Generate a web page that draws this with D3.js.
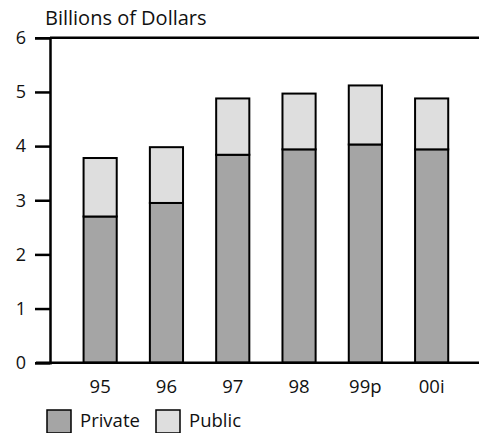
<!DOCTYPE html>
<html>
<head>
<meta charset="utf-8">
<script src="https://cdn.jsdelivr.net/npm/d3@7"></script>
<style>
  body { margin: 0; background: #fff; }
  text { font-family: "Open Sans", Lato, sans-serif; fill: #111; }
</style>
</head>
<body>
<div id="chart"></div>
<script>
// years and the two stacked funding sources (billions of dollars)
const years = ["95", "96", "97", "98", "99p", "00i"];
const privateVals = [2.7, 2.95, 3.84, 3.94, 4.03, 3.94];
const publicVals = [1.08, 1.03, 1.04, 1.03, 1.09, 0.94];
const yTicks = [0, 1, 2, 3, 4, 5, 6];
const seriesNames = ["Private", "Public"];
const seriesColors = ["#a5a5a5", "#dedede"];

const width = 479, height = 433;
const svg = d3.select("#chart").append("svg")
  .attr("width", width)
  .attr("height", height);

const data = years.map((y, i) => ({ year: y, Private: privateVals[i], Public: publicVals[i] }));
const stacked = d3.stack().keys(seriesNames)(data);

const x = d3.scaleBand()
  .domain(years)
  .range([67, 464.8])
  .paddingInner(0.5)
  .paddingOuter(0.25);

const y = d3.scaleLinear()
  .domain([0, 6])
  .range([362.7, 37.8]);

// top frame line
svg.append("line")
  .attr("x1", 50).attr("x2", width)
  .attr("y1", y(6)).attr("y2", y(6))
  .attr("stroke", "#000").attr("stroke-width", 2.5);

// bars
svg.append("g").selectAll("g")
  .data(stacked)
  .join("g")
  .attr("fill", (d, i) => seriesColors[i])
  .selectAll("rect")
  .data(d => d)
  .join("rect")
  .attr("x", d => x(d.data.year))
  .attr("y", d => y(d[1]))
  .attr("width", x.bandwidth())
  .attr("height", d => y(d[0]) - y(d[1]))
  .attr("stroke", "#000")
  .attr("stroke-width", 2);

// y axis
const yAxis = svg.append("g")
  .attr("transform", "translate(50,0)")
  .call(d3.axisLeft(y).tickValues(yTicks).tickSize(15).tickPadding(9).tickFormat(d3.format("d")));
yAxis.select(".domain").attr("stroke-width", 2.5);
yAxis.selectAll(".tick line").attr("stroke-width", 2.5);
yAxis.selectAll(".tick text").style("font-size", "18px").attr("fill", "#111");

// x axis baseline
svg.append("line")
  .attr("x1", 36).attr("x2", width)
  .attr("y1", y(0)).attr("y2", y(0))
  .attr("stroke", "#000").attr("stroke-width", 2.5);

svg.append("g").selectAll("text")
  .data(years)
  .join("text")
  .attr("x", d => x(d) + x.bandwidth() / 2)
  .attr("y", 393)
  .attr("text-anchor", "middle")
  .style("font-size", "18.5px")
  .text(d => d);

// title
svg.append("text")
  .attr("x", 45)
  .attr("y", 25)
  .style("font-size", "20px")
  .text("Billions of Dollars");

// legend
const legendX = [47, 156];
const legend = svg.append("g").selectAll("g")
  .data(seriesNames)
  .join("g")
  .attr("transform", (d, i) => `translate(${legendX[i]},410)`);
legend.append("rect")
  .attr("width", 24).attr("height", 23)
  .attr("fill", (d, i) => seriesColors[i])
  .attr("stroke", "#000").attr("stroke-width", 1.5);
legend.append("text")
  .attr("x", 33).attr("y", 17)
  .style("font-size", "18.5px")
  .text(d => d);
</script>
</body>
</html>
